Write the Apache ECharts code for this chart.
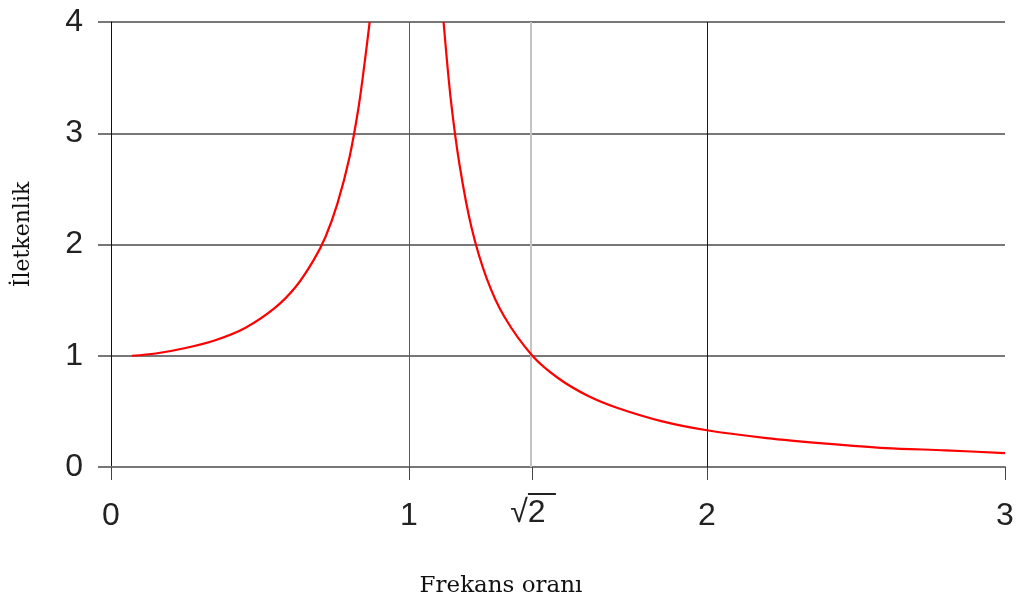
<!DOCTYPE html>
<html>
<head>
<meta charset="utf-8">
<script src="https://cdn.jsdelivr.net/npm/echarts@6/dist/echarts.min.js"></script>
<style>
  html, body { margin: 0; padding: 0; background: #fff; }
  #chart { width: 1017px; height: 601px; }
</style>
</head>
<body>
<div id="chart"></div>
<script>
// Transmissibility vs. frequency ratio (undamped), two branches either side of resonance
const ratioBelow = [0.07, 0.15, 0.25, 0.35, 0.45, 0.55, 0.62, 0.68, 0.72, 0.76, 0.80, 0.83, 0.85, 0.868];
const transBelow = [1.00, 1.02, 1.07, 1.14, 1.25, 1.43, 1.62, 1.86, 2.07, 2.37, 2.78, 3.22, 3.61, 4.00];

const ratioAbove = [1.116, 1.14, 1.17, 1.21, 1.26, 1.32, 1.414, 1.5, 1.6, 1.7, 1.85, 2.0, 2.2, 2.4, 2.6, 2.8, 3.0];
const transAbove = [4.00, 3.31, 2.71, 2.15, 1.70, 1.35, 1.00, 0.80, 0.64, 0.53, 0.41, 0.33, 0.26, 0.21, 0.17, 0.15, 0.125];

// x-axis ticks (non-uniform: includes √2)
const xTickValues = [0, 1, Math.SQRT2, 2, 3];
const xTickLabels = ['0', '1', '{rt|√2}', '2', '3'];

// vertical reference lines
const refLineValues = [1, Math.SQRT2, 2];
const refLineStyles = [
  { color: '#5a5a5a', width: 1 },
  { color: '#c4c4c4', width: 2 },
  { color: '#1a1a1a', width: 1 }
];

const yTitle = 'İletkenlik';
const xTitle = 'Frekans oranı';

const zip = (xs, ys) => xs.map((x, i) => [x, ys[i]]);

const chart = echarts.init(document.getElementById('chart'), null, { renderer: 'canvas' });

const curveStyle = { color: '#ff0000', width: 2.2 };

const labelFmt = function (v) {
  const i = xTickValues.findIndex(t => Math.abs(t - v) < 1e-6);
  return i >= 0 ? xTickLabels[i] : '';
};

chart.setOption({
  animation: false,
  backgroundColor: '#ffffff',
  grid: { left: 111, right: 12, top: 22, bottom: 134, containLabel: false, outerBoundsMode: 'none' },
  xAxis: [
    {
      type: 'value',
      min: 0,
      max: 3,
      name: xTitle,
      nameLocation: 'middle',
      nameGap: 108,
      nameTextStyle: { fontFamily: 'DejaVu Serif', fontSize: 23, color: '#111', padding: [0, 114, 0, 0] },
      axisLine: { show: true, lineStyle: { color: '#777', width: 2 } },
      axisTick: {
        show: true,
        inside: false,
        length: 13,
        customValues: xTickValues,
        lineStyle: { color: '#444', width: 1 }
      },
      axisLabel: {
        customValues: xTickValues,
        margin: 33,
        fontFamily: 'Liberation Sans',
        fontSize: 32,
        color: '#222',
        rich: {
          rt: { fontFamily: 'Liberation Sans', fontSize: 32, color: '#222', lineHeight: 26, padding: [0, 9, 0, 0] }
        },
        formatter: labelFmt
      },
      splitLine: { show: false }
    },
    {
      // vinculum over the "2" of the √2 label
      type: 'value',
      min: 0,
      max: 3,
      position: 'bottom',
      axisLine: { show: false },
      axisTick: { show: false },
      splitLine: { show: false },
      axisLabel: {
        customValues: [Math.SQRT2],
        margin: 26,
        formatter: function () { return '{sp|}{bar|}'; },
        rich: {
          sp: { width: 19, height: 2, lineHeight: 2 },
          bar: { width: 28, height: 2, backgroundColor: '#222', lineHeight: 2 }
        }
      }
    }
  ],
  yAxis: {
    type: 'value',
    min: 0,
    max: 4,
    interval: 1,
    name: yTitle,
    nameLocation: 'middle',
    nameGap: 77,
    nameRotate: 90,
    nameTextStyle: { fontFamily: 'DejaVu Serif', fontSize: 22, color: '#111', padding: [0, 0, 0, 20] },
    axisLine: { show: true, onZero: false, lineStyle: { color: '#111', width: 1 } },
    axisTick: { show: true, inside: false, length: 13, lineStyle: { color: '#777', width: 2 } },
    axisLabel: { margin: 28, fontFamily: 'Liberation Sans', fontSize: 32, color: '#222' },
    splitLine: { show: true, lineStyle: { color: '#777', width: 2 } }
  },
  series: [
    {
      type: 'line',
      data: zip(ratioBelow, transBelow),
      smooth: 0.3,
      showSymbol: false,
      lineStyle: curveStyle,
      z: 5,
      markLine: {
        silent: true,
        symbol: ['none', 'none'],
        label: { show: false },
        animation: false,
        data: refLineValues.map((v, i) => ({ xAxis: v, lineStyle: Object.assign({ type: 'solid' }, refLineStyles[i]) }))
      }
    },
    {
      type: 'line',
      data: zip(ratioAbove, transAbove),
      smooth: 0.3,
      showSymbol: false,
      lineStyle: curveStyle,
      z: 5
    }
  ]
});
</script>
</body>
</html>
